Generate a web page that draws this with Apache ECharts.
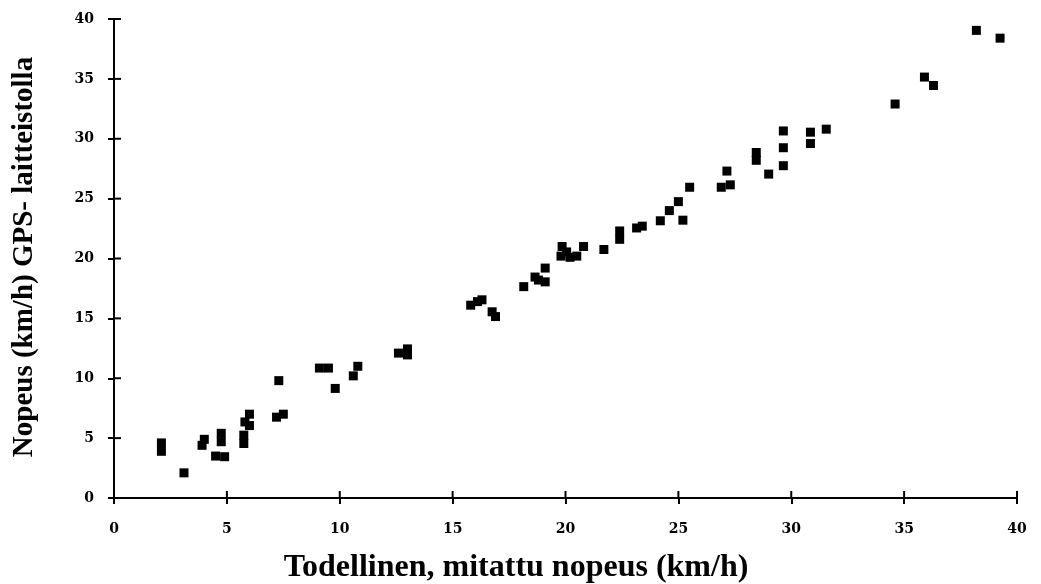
<!DOCTYPE html>
<html><head><meta charset="utf-8">
<script src="https://cdn.jsdelivr.net/npm/echarts@6/dist/echarts.min.js"></script>
<style>html,body{margin:0;padding:0;background:#fff}#c{width:1041px;height:584px}</style>
</head><body><div id="c"></div>
<script>
const xTitle = 'Todellinen, mitattu nopeus (km/h)';
const yTitle = 'Nopeus (km/h) GPS- laitteistolla';
const xTicks = [0,5,10,15,20,25,30,35,40];
const yTicks = [0,5,10,15,20,25,30,35,40];
// measured speed (x) and GPS speed (y)
const measured = [2.1,2.1,3.1,4.0,3.9,4.75,4.75,4.5,4.9,5.75,5.75,6.0,5.8,6.0,7.3,7.2,7.5,9.1,9.5,9.8,10.6,10.8,12.6,13.0,13.0,15.8,16.1,16.3,16.75,16.9,18.15,18.65,19.1,19.1,18.8,19.85,20.05,20.2,20.5,20.8,19.8,21.7,22.4,22.4,23.15,23.4,24.2,24.6,25.0,25.2,25.5,26.9,27.3,27.15,28.45,28.45,29.0,29.65,29.65,29.65,30.85,30.85,31.55,34.6,35.9,36.3,38.2,39.25];
const gps      = [4.6,3.9,2.1,4.9,4.4,5.4,4.7,3.5,3.45,5.25,4.55,7.0,6.35,6.05,9.8,6.75,7.0,10.85,10.85,9.15,10.2,11.0,12.1,12.45,11.95,16.1,16.4,16.55,15.55,15.15,17.65,18.45,19.2,18.05,18.2,21.0,20.55,20.1,20.2,21.0,20.2,20.75,22.3,21.6,22.55,22.7,23.15,24.0,24.75,23.2,25.95,25.95,26.15,27.3,28.85,28.2,27.05,30.65,29.25,27.75,30.55,29.6,30.8,32.9,35.15,34.45,39.05,38.4];
const points = measured.map((x,i)=>[x,gps[i]]);

const chart = echarts.init(document.getElementById('c'), null, {renderer:'canvas'});
const tickFont = {color:'#000', fontFamily:'DejaVu Serif', fontWeight:'bold', fontSize:14};
const lineStyle = {color:'#000', width:2};
const tickStyle = {color:'#000', width:2};
const titleStyle = {fill:'#000', fontFamily:'Liberation Serif', fontWeight:'bold', textAlign:'center', textVerticalAlign:'middle'};
const titles = [
  {type:'text', x:516, y:568, style:{...titleStyle, fontSize:32, text:xTitle}},
  {type:'text', x:25, y:257, rotation:Math.PI/2, style:{...titleStyle, fontSize:29, text:yTitle}}
];
chart.setOption({
  animation:false,
  backgroundColor:'#fff',
  grid:{left:114, right:24, top:19, bottom:86, containLabel:false},
  xAxis:{
    type:'value', min:0, max:40, interval:5, position:'bottom',
    axisLine:{show:true, onZero:false, lineStyle},
    axisTick:{show:true, length:6, lineStyle:tickStyle},
    axisLabel:{...tickFont, margin:24, formatter:v=>xTicks.includes(v)?String(v):''},
    splitLine:{show:false}
  },
  yAxis:{
    type:'value', min:0, max:40, interval:5, position:'left',
    axisLine:{show:true, onZero:false, lineStyle},
    axisTick:{show:true, length:6, lineStyle:tickStyle},
    axisLabel:{...tickFont, margin:20, formatter:v=>yTicks.includes(v)?String(v):''},
    splitLine:{show:false}
  },
  graphic:titles,
  series:[{
    type:'scatter', symbol:'rect', symbolSize:9,
    itemStyle:{color:'#000', opacity:1},
    data:points
  }]
});
// inner halves of the cross-shaped ticks, placed through the axes' own scales
const inner = [];
xTicks.forEach(v=>{
  const p = chart.convertToPixel({xAxisIndex:0, yAxisIndex:0}, [v,0]);
  inner.push({type:'rect', shape:{x:p[0]-1, y:p[1]-7, width:2, height:7}, style:{fill:'#000'}, z:100});
});
yTicks.forEach(v=>{
  const p = chart.convertToPixel({xAxisIndex:0, yAxisIndex:0}, [0,v]);
  inner.push({type:'rect', shape:{x:p[0], y:p[1]-1, width:7, height:2}, style:{fill:'#000'}, z:100});
});
chart.setOption({graphic:titles.concat(inner)}, {replaceMerge:['graphic']});
</script></body></html>
